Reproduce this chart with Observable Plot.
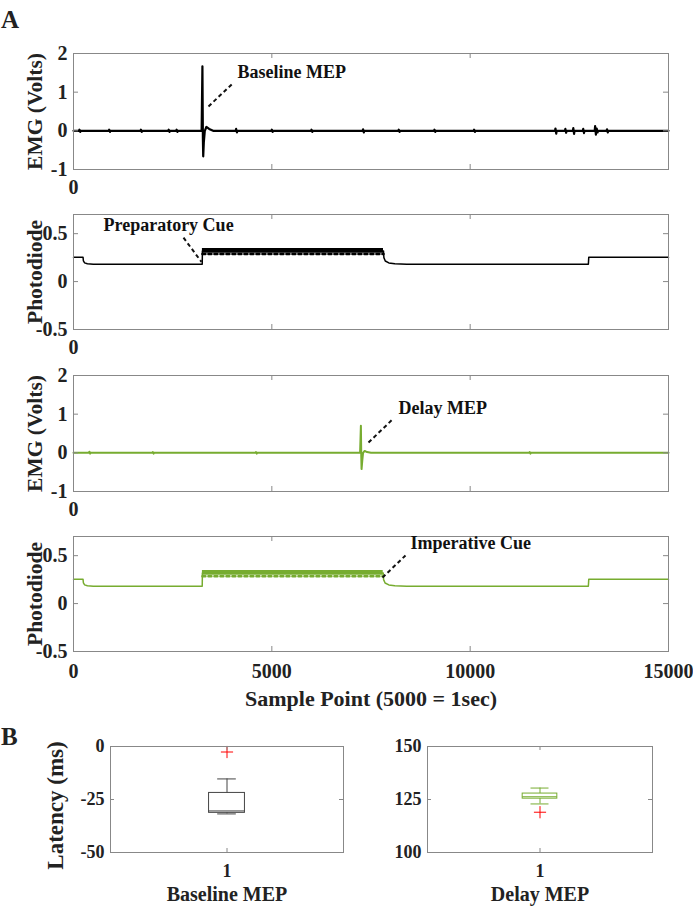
<!DOCTYPE html>
<html>
<head>
<meta charset="utf-8">
<script src="https://cdn.jsdelivr.net/npm/d3@7"></script>
<script src="https://cdn.jsdelivr.net/npm/@observablehq/plot@0.6"></script>
<style>
  html, body { margin: 0; padding: 0; background: #fff; }
  #root { position: relative; width: 693px; height: 913px; overflow: hidden; background: #fff;
          font-family: "Liberation Serif", "Times New Roman", serif; font-weight: bold; color: #222; }
  .part { position: absolute; }
  .letter { position: absolute; font-size: 25px; line-height: 25px; }
</style>
</head>
<body>
<div id="root">
  <div class="letter" style="left:1px; top:7px;">A</div>
  <div class="letter" style="left:1px; top:724px;">B</div>
</div>
<script>
// ---------- shared axis data ----------
const xTicks = [0, 5000, 10000, 15000];
const emgTicks = [-1, 0, 1, 2];
const pdTicks = [-0.5, 0, 0.5];
const latencyTicksBaseline = [-50, -25, 0];
const latencyTicksDelay = [100, 125, 150];

// ---------- Baseline trial EMG (sample, volts) ----------
const emgBaseX = [0, 140, 150, 170, 180, 890, 900, 920, 930, 1690, 1700, 1720, 1730, 2390, 2400, 2420, 2430,
  2590, 2600, 2620, 2630, 3230, 3250, 3262, 3270, 3285, 3310, 3350, 3420, 3520, 4090, 4100, 4120, 4130,
  4990, 5000, 5020, 5030, 5990, 6000, 6020, 6030, 7290, 7300, 7320, 7330, 8190, 8200, 8220, 8230,
  9090, 9100, 9120, 9130, 10090, 10100, 10120, 10130, 12140, 12150, 12170, 12180, 12390, 12400, 12420, 12430,
  12590, 12600, 12620, 12630, 12840, 12850, 12870, 12880, 13140, 13150, 13170, 13190, 13210, 13230,
  13440, 13450, 13470, 13480, 15000];
const emgBaseY = [0, 0, 0.03, -0.03, 0, 0, 0.03, -0.03, 0, 0, 0.03, -0.03, 0, 0, 0.03, -0.03, 0,
  0, 0.03, -0.03, 0, 0, 1.67, -0.2, -0.66, -0.3, 0, 0.1, 0.05, 0, 0, 0.05, -0.04, 0,
  0, 0.03, -0.03, 0, 0, 0.03, -0.03, 0, 0, 0.04, -0.04, 0, 0, 0.03, -0.03, 0,
  0, 0.03, -0.03, 0, 0, 0.03, -0.03, 0, 0, 0.06, -0.07, 0, 0, 0.05, -0.05, 0,
  0, 0.07, -0.08, 0, 0, 0.05, -0.06, 0, 0, 0.12, -0.1, 0.06, -0.04, 0,
  0, 0.04, -0.04, 0, 0];

// ---------- Preparatory-cue photodiode ----------
const pdPrepX = [0, 240, 250, 280, 350, 500, 3245, 3250, 7815, 7825, 7860, 7950, 8100, 8400, 12980, 12990, 15000];
const pdPrepY = [0.255, 0.255, 0.215, 0.195, 0.186, 0.181, 0.181, 0.32, 0.32, 0.25, 0.215, 0.195, 0.185, 0.181, 0.181, 0.255, 0.255];
const pdPrepBandX = [3250, 7815];
const pdPrepBandLow = [0.295, 0.295];
const pdPrepBandHigh = [0.345, 0.345];
const pdPrepRippleLow = [0.287, 0.287];

// ---------- Delay trial EMG ----------
const emgDelayX = [0, 390, 400, 420, 430, 1990, 2000, 2020, 2030, 4590, 4600, 4620, 4630,
  7225, 7245, 7255, 7262, 7280, 7300, 7340, 7400, 7500, 11490, 11500, 11520, 11530, 15000];
const emgDelayY = [0, 0, 0.03, -0.02, 0, 0, 0.02, -0.02, 0, 0, 0.02, -0.02, 0,
  0, 0.70, -0.1, -0.42, -0.2, 0, 0.05, 0.02, 0, 0, 0.02, -0.02, 0, 0];

// ---------- Imperative-cue photodiode ----------
const pdImpX = [0, 240, 250, 280, 350, 500, 3245, 3250, 7808, 7818, 7855, 7950, 8100, 8400, 12980, 12990, 15000];
const pdImpY = [0.255, 0.255, 0.215, 0.195, 0.186, 0.181, 0.181, 0.32, 0.32, 0.25, 0.215, 0.195, 0.185, 0.181, 0.181, 0.255, 0.255];
const pdImpBandX = [3250, 7808];
const pdImpBandLow = [0.295, 0.295];
const pdImpBandHigh = [0.345, 0.345];
const pdImpRippleLow = [0.285, 0.285];

// ---------- annotations (data units) ----------
const annBaseline = {label: "Baseline MEP", tx: 4134, ty: 1.51, x1: 3403, y1: 0.63, x2: 4008, y2: 1.22};
const annPrep = {label: "Preparatory Cue", tx: 756, ty: 0.584, x1: 2773, y1: 0.458, x2: 3227, y2: 0.205};
const annDelay = {label: "Delay MEP", tx: 8193, ty: 1.15, x1: 7437, y1: 0.267, x2: 8067, y2: 0.888};
const annImp = {label: "Imperative Cue", tx: 8496, ty: 0.627, x1: 7790, y1: 0.272, x2: 8370, y2: 0.502};

// ---------- latency box plots (ms) ----------
const boxGroups = ["Baseline MEP", "Delay MEP"];
const boxQ1 = [-31.3, 125.4];
const boxMedian = [-30.4, 126.3];
const boxQ3 = [-21.9, 127.8];
const boxWhiskerLow = [-31.8, 122.9];
const boxWhiskerHigh = [-15.3, 130.4];
const boxOutliers = [[-2.6], [119]];

const GREEN = "#77AC30";
const FONT = "'Liberation Serif', 'Times New Roman', serif";
const root = document.getElementById("root");

function place(svg, left, top) {
  const d = document.createElement("div");
  d.className = "part";
  d.style.left = left + "px";
  d.style.top = top + "px";
  d.appendChild(svg);
  root.appendChild(d);
}

function pts(X, Y) { return X.map((x, i) => ({x, y: Y[i]})); }
function band(X, lo, hi) { return X.map((x, i) => ({x, lo: lo[i], hi: hi[i]})); }

function tsPanel({top, frameH, mb, yDomain, yTicks, xTickLabels, xPad = 10, ylabel, marks, extra = []}) {
  const mt = 15, ml = 73, mr = 25, W = 693;
  const H = mt + frameH + mb;
  const fw = W - ml - mr;
  const svg = Plot.plot({
    width: W, height: H, marginTop: mt, marginBottom: mb, marginLeft: ml, marginRight: mr,
    style: {background: "transparent", fontFamily: FONT, fontWeight: "bold", fontSize: "20px", color: "#222", overflow: "visible"},
    x: {domain: [0, 15000]},
    y: {domain: yDomain},
    marks: [
      ...marks,
      Plot.frame({stroke: "#888"}),
      Plot.tickX(xTicks, {x: d => d, stroke: "#888", insetTop: frameH - 5}),
      Plot.tickX(xTicks, {x: d => d, stroke: "#888", insetBottom: frameH - 5}),
      Plot.tickY(yTicks, {y: d => d, stroke: "#888", insetRight: fw - 5}),
      Plot.tickY(yTicks, {y: d => d, stroke: "#888", insetLeft: fw - 5}),
      Plot.axisX(xTickLabels, {tickSize: 0, tickPadding: xPad, tickFormat: d => String(d), label: null}),
      Plot.axisY(yTicks, {tickSize: 0, tickPadding: 6, tickFormat: d => String(d), label: null}),
      Plot.text([ylabel], {frameAnchor: "left", textAnchor: "middle", dx: -38, rotate: -90, text: d => d, fontSize: 21.5}),
      ...extra
    ]
  });
  place(svg, 0, top - mt);
}

function annotation(a, color = "#111") {
  return [
    Plot.link([a], {x1: "x1", y1: "y1", x2: "x2", y2: "y2", stroke: color, strokeWidth: 2, strokeDasharray: "4,3"}),
    Plot.text([a], {x: "tx", y: "ty", text: "label", textAnchor: "start", fontSize: 18, fill: "#111"})
  ];
}

function photodiodeMarks(X, Y, bandX, lo, hi, ripple, color) {
  return [
    Plot.areaY(band(bandX, lo, hi), {x: "x", y1: "lo", y2: "hi", fill: color}),
    Plot.line(pts(bandX, ripple), {x: "x", y: "y", stroke: color, strokeWidth: 2.5, strokeDasharray: "3,3"}),
    Plot.line(pts(X, Y), {x: "x", y: "y", stroke: color, strokeWidth: 1.5})
  ];
}

// Panel 1: baseline EMG
tsPanel({
  top: 53, frameH: 116, mb: 31, yDomain: [-1, 2], yTicks: emgTicks, xTickLabels: [0], ylabel: "EMG (Volts)",
  marks: [Plot.line(pts(emgBaseX, emgBaseY), {x: "x", y: "y", stroke: "#000", strokeWidth: 2.2})],
  extra: annotation(annBaseline)
});

// Panel 2: preparatory photodiode
tsPanel({
  top: 214, frameH: 115, mb: 31, yDomain: [-0.5, 0.7], yTicks: pdTicks, xTickLabels: [0], ylabel: "Photodiode",
  marks: photodiodeMarks(pdPrepX, pdPrepY, pdPrepBandX, pdPrepBandLow, pdPrepBandHigh, pdPrepRippleLow, "#000"),
  extra: annotation(annPrep)
});

// Panel 3: delay EMG
tsPanel({
  top: 375, frameH: 116, mb: 30, yDomain: [-1, 2], yTicks: emgTicks, xTickLabels: [0], ylabel: "EMG (Volts)",
  marks: [Plot.line(pts(emgDelayX, emgDelayY), {x: "x", y: "y", stroke: GREEN, strokeWidth: 2})],
  extra: annotation(annDelay)
});

// Panel 4: imperative photodiode
tsPanel({
  top: 536, frameH: 115, mb: 65, yDomain: [-0.5, 0.7], yTicks: pdTicks, xTickLabels: xTicks, xPad: 12, ylabel: "Photodiode",
  marks: photodiodeMarks(pdImpX, pdImpY, pdImpBandX, pdImpBandLow, pdImpBandHigh, pdImpRippleLow, GREEN),
  extra: [
    ...annotation(annImp),
    Plot.text(["Sample Point (5000 = 1sec)"], {frameAnchor: "bottom", dy: 54, text: d => d, fontSize: 22})
  ]
});

// Box plots
function boxPanel({i, left, W, ml, mr, yTicks, ylabel, color}) {
  const mt = 30, mb = 60, frameH = 106;
  const H = mt + frameH + mb;
  const fw = W - ml - mr;
  const hw = 0.077, cw = 0.04;
  const marks = [
    Plot.rect([i], {x1: 1 - hw, x2: 1 + hw, y1: d => boxQ1[d], y2: d => boxQ3[d], fill: "none", stroke: color, strokeWidth: 1}),
    Plot.ruleY([i], {x1: 1 - hw, x2: 1 + hw, y: d => boxMedian[d], stroke: color, strokeWidth: 1}),
    Plot.ruleX([i], {x: 1, y1: d => boxQ3[d], y2: d => boxWhiskerHigh[d], stroke: color, strokeWidth: 1}),
    Plot.ruleX([i], {x: 1, y1: d => boxWhiskerLow[d], y2: d => boxQ1[d], stroke: color, strokeWidth: 1}),
    Plot.ruleY([i], {x1: 1 - cw, x2: 1 + cw, y: d => boxWhiskerHigh[d], stroke: color, strokeWidth: 1}),
    Plot.ruleY([i], {x1: 1 - cw, x2: 1 + cw, y: d => boxWhiskerLow[d], stroke: color, strokeWidth: 1}),
    Plot.dot(boxOutliers[i], {x: 1, y: d => d, symbol: "plus", stroke: "red", r: 4, strokeWidth: 1}),
    Plot.frame({stroke: "#888"}),
    Plot.tickX([1], {x: d => d, stroke: "#888", insetTop: frameH - 4}),
    Plot.tickX([1], {x: d => d, stroke: "#888", insetBottom: frameH - 4}),
    Plot.tickY(yTicks, {y: d => d, stroke: "#888", insetRight: fw - 4}),
    Plot.tickY(yTicks, {y: d => d, stroke: "#888", insetLeft: fw - 4}),
    Plot.axisX([1], {tickSize: 0, tickPadding: 12, tickFormat: d => String(d), label: null}),
    Plot.axisY(yTicks, {tickSize: 0, tickPadding: 6, tickFormat: d => String(d), label: null}),
    Plot.text([boxGroups[i]], {frameAnchor: "bottom", dy: 48, text: d => d, fontSize: 20})
  ];
  if (ylabel) marks.push(Plot.text([ylabel], {frameAnchor: "left", textAnchor: "middle", dx: -55, dy: 6, rotate: -90, text: d => d, fontSize: 23}));
  const svg = Plot.plot({
    width: W, height: H, marginTop: mt, marginBottom: mb, marginLeft: ml, marginRight: mr,
    style: {background: "transparent", fontFamily: FONT, fontWeight: "bold", fontSize: "18px", color: "#222", overflow: "visible"},
    x: {domain: [0.5, 1.5]},
    y: {domain: [yTicks[0], yTicks[yTicks.length - 1]]},
    marks
  });
  place(svg, left, 746 - mt);
}

boxPanel({i: 0, left: 0, W: 370, ml: 110, mr: 27, yTicks: latencyTicksBaseline, ylabel: "Latency (ms)", color: "#444"});
boxPanel({i: 1, left: 370, W: 323, ml: 57, mr: 41, yTicks: latencyTicksDelay, ylabel: null, color: GREEN});
</script>
</body>
</html>
